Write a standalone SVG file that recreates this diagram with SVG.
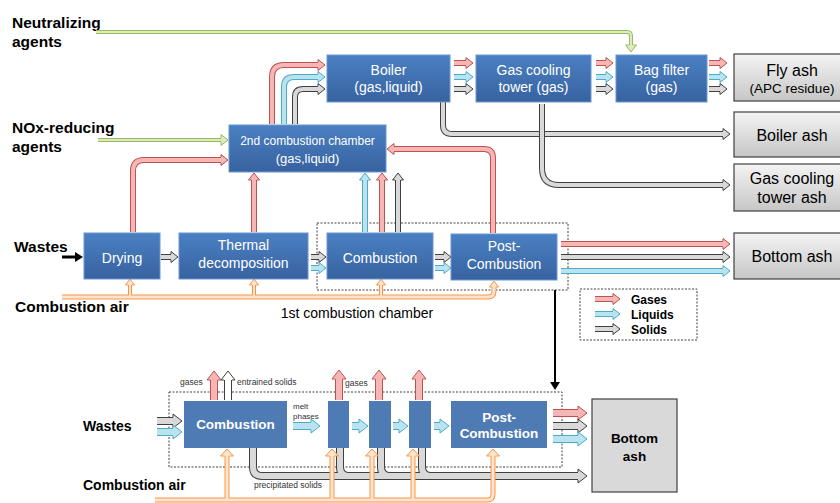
<svg xmlns="http://www.w3.org/2000/svg" width="840" height="503" viewBox="0 0 840 503">
<defs>
<linearGradient id="gBlue" x1="0" y1="0" x2="0" y2="1"><stop offset="0" stop-color="#4a80c2"/><stop offset="1" stop-color="#3862a0"/></linearGradient>
<linearGradient id="gGray" x1="0" y1="0" x2="0" y2="1"><stop offset="0" stop-color="#f4f4f4"/><stop offset="1" stop-color="#c6c6c6"/></linearGradient>
<marker id="aR" markerUnits="userSpaceOnUse" orient="auto" overflow="visible" markerWidth="1" markerHeight="1"><path d="M0,-3 L0,-5.5 L7,0 L0,5.5 L0,3" fill="#f5b7b6" stroke="#c0504d" stroke-width="1"/></marker>
<marker id="aB" markerUnits="userSpaceOnUse" orient="auto" overflow="visible" markerWidth="1" markerHeight="1"><path d="M0,-3 L0,-5.5 L7,0 L0,5.5 L0,3" fill="#b9e3f1" stroke="#4bacc6" stroke-width="1"/></marker>
<marker id="aK" markerUnits="userSpaceOnUse" orient="auto" overflow="visible" markerWidth="1" markerHeight="1"><path d="M0,-3 L0,-5.5 L7,0 L0,5.5 L0,3" fill="#d9d9d9" stroke="#404040" stroke-width="1"/></marker>
<marker id="aRL" markerUnits="userSpaceOnUse" orient="auto" overflow="visible" markerWidth="1" markerHeight="1"><path d="M0,-4 L0,-7 L9,0 L0,7 L0,4" fill="#f5b7b6" stroke="#c0504d" stroke-width="1"/></marker>
<marker id="aBL" markerUnits="userSpaceOnUse" orient="auto" overflow="visible" markerWidth="1" markerHeight="1"><path d="M0,-4 L0,-7 L9,0 L0,7 L0,4" fill="#b9e3f1" stroke="#4bacc6" stroke-width="1"/></marker>
<marker id="aKL" markerUnits="userSpaceOnUse" orient="auto" overflow="visible" markerWidth="1" markerHeight="1"><path d="M0,-4 L0,-7 L9,0 L0,7 L0,4" fill="#d9d9d9" stroke="#404040" stroke-width="1"/></marker>
<marker id="aWL" markerUnits="userSpaceOnUse" orient="auto" overflow="visible" markerWidth="1" markerHeight="1"><path d="M0,-4 L0,-7 L9,0 L0,7 L0,4" fill="#ffffff" stroke="#404040" stroke-width="1"/></marker>
<marker id="aG" markerUnits="userSpaceOnUse" orient="auto" overflow="visible" markerWidth="1" markerHeight="1"><path d="M0,-2 L0,-5.5 L7,0 L0,5.5 L0,2" fill="#dbe9c4" stroke="#9bbb59" stroke-width="1"/></marker>
<marker id="aO" markerUnits="userSpaceOnUse" orient="auto" overflow="visible" markerWidth="1" markerHeight="1"><path d="M0,-2 L0,-4.5 L6,0 L0,4.5 L0,2" fill="#fde4cf" stroke="#f79646" stroke-width="1"/></marker>
<marker id="aOL" markerUnits="userSpaceOnUse" orient="auto" overflow="visible" markerWidth="1" markerHeight="1"><path d="M0,-2.5 L0,-6.5 L7,0 L0,6.5 L0,2.5" fill="#fde4cf" stroke="#f79646" stroke-width="1"/></marker>
<marker id="aBlk" markerUnits="userSpaceOnUse" orient="auto" overflow="visible" markerWidth="1" markerHeight="1"><path d="M-1,-5 L7,0 L-1,5 Z" fill="#000"/></marker>
</defs>
<style>
text{font-family:"Liberation Sans",Arial,sans-serif}
.bx{fill:url(#gBlue);stroke:#6b98d0;stroke-width:1}
.bx2{fill:#4f7bb5}
.gb{fill:url(#gGray);stroke:#404040;stroke-width:1.2}
.nt{fill:#fff;font-size:14px;text-anchor:middle}
.nb{fill:#fff;font-size:13.5px;font-weight:bold;text-anchor:middle}
.gt{fill:#000;font-size:16px;text-anchor:middle}
.lab{fill:#000;font-size:15.5px;font-weight:bold}
.sm{fill:#333;font-size:8.5px}
.dash{fill:none;stroke:#404040;stroke-width:1;stroke-dasharray:2,1.5}
.r1{fill:none;stroke:#c0504d;stroke-width:6}
.r2{fill:none;stroke:#f5b7b6;stroke-width:4}
.b1{fill:none;stroke:#4bacc6;stroke-width:6}
.b2{fill:none;stroke:#b9e3f1;stroke-width:4}
.k1{fill:none;stroke:#404040;stroke-width:6}
.k2{fill:none;stroke:#d9d9d9;stroke-width:4}
.w2{fill:none;stroke:#ffffff;stroke-width:4}
.g1{fill:none;stroke:#9bbb59;stroke-width:4}
.g2{fill:none;stroke:#dbe9c4;stroke-width:2}
.o1{fill:none;stroke:#f79646;stroke-width:4}
.o2{fill:none;stroke:#fde4cf;stroke-width:2}
.L1{stroke-width:8}
.L2{stroke-width:6}
.O1{stroke-width:5}
.O2{stroke-width:3}
</style>

<!-- labels -->
<g id="labels">
<text class="lab" x="12" y="28">Neutralizing</text>
<text class="lab" x="12" y="47">agents</text>
<text class="lab" x="12" y="133">NOx-reducing</text>
<text class="lab" x="12" y="152">agents</text>
<text class="lab" x="14" y="252">Wastes</text>
<text class="lab" x="15" y="312">Combustion air</text>
<text x="357" y="318" font-size="14" text-anchor="middle" fill="#000">1st combustion chamber</text>
<text class="lab" x="83" y="431" style="font-size:14px">Wastes</text>
<text class="lab" x="83" y="490" style="font-size:14px">Combustion air</text>
<text class="sm" x="180" y="385">gases</text>
<text class="sm" x="237" y="385">entrained solids</text>
<text class="sm" x="345" y="386">gases</text>
<text class="sm" x="293" y="409" style="font-size:8px">melt</text>
<text class="sm" x="293" y="419" style="font-size:8px">phases</text>
<text class="sm" x="254" y="488">precipitated solids</text>
</g>

<!-- dashed frames -->
<rect class="dash" x="317" y="223" width="251" height="67"/>
<rect class="dash" x="169" y="392" width="393" height="75"/>

<!-- connectors -->
<g id="connectors">
<path class="g1" d="M96,32 H627 Q631,32 631,36 V45"/>
<path class="g2" d="M96,32 H627 Q631,32 631,36 V45" marker-end="url(#aG)"/>
<path class="g1" d="M98,140 H221"/>
<path class="g2" d="M98,140 H221" marker-end="url(#aG)"/>

<path class="r1" d="M272,124 V77 Q272,65 284,65 H318"/>
<path class="r2" d="M272,124 V77 Q272,65 284,65 H318" marker-end="url(#aR)"/>
<path class="b1" d="M284,124 V87 Q284,77 294,77 H318"/>
<path class="b2" d="M284,124 V87 Q284,77 294,77 H318" marker-end="url(#aB)"/>
<path class="k1" d="M295,124 V97 Q295,89 303,89 H318"/>
<path class="k2" d="M295,124 V97 Q295,89 303,89 H318" marker-end="url(#aK)"/>

<path class="r1" d="M454,63 H466"/><path class="r2" d="M454,63 H466" marker-end="url(#aR)"/>
<path class="b1" d="M454,77 H466"/><path class="b2" d="M454,77 H466" marker-end="url(#aB)"/>
<path class="k1" d="M454,89 H466"/><path class="k2" d="M454,89 H466" marker-end="url(#aK)"/>
<path class="r1" d="M596,63 H606"/><path class="r2" d="M596,63 H606" marker-end="url(#aR)"/>
<path class="b1" d="M596,77 H606"/><path class="b2" d="M596,77 H606" marker-end="url(#aB)"/>
<path class="k1" d="M596,89 H606"/><path class="k2" d="M596,89 H606" marker-end="url(#aK)"/>
<path class="r1" d="M709,63 H720"/><path class="r2" d="M709,63 H720" marker-end="url(#aR)"/>
<path class="b1" d="M709,77 H720"/><path class="b2" d="M709,77 H720" marker-end="url(#aB)"/>
<path class="k1" d="M709,89 H720"/><path class="k2" d="M709,89 H720" marker-end="url(#aK)"/>

<path class="k1" d="M443,102 V125 Q443,134 452,134 H723"/>
<path class="k2" d="M443,102 V125 Q443,134 452,134 H723" marker-end="url(#aK)"/>
<path class="k1" d="M542,104 V168 Q542,185 559,185 H723"/>
<path class="k2" d="M542,104 V168 Q542,185 559,185 H723" marker-end="url(#aK)"/>

<path class="r1" d="M133,232 V171 Q133,160 144,160 H221"/>
<path class="r2" d="M133,232 V171 Q133,160 144,160 H221" marker-end="url(#aR)"/>
<path class="r1" d="M254,232 V180"/><path class="r2" d="M254,232 V180" marker-end="url(#aR)"/>
<path class="b1" d="M365,232 V180"/><path class="b2" d="M365,232 V180" marker-end="url(#aB)"/>
<path class="r1" d="M382,232 V180"/><path class="r2" d="M382,232 V180" marker-end="url(#aR)"/>
<path class="k1" d="M398,232 V180"/><path class="k2" d="M398,232 V180" marker-end="url(#aK)"/>
<path class="r1" d="M493,233 V158 Q493,149 484,149 H394"/>
<path class="r2" d="M493,233 V158 Q493,149 484,149 H394" marker-end="url(#aR)"/>

<path d="M62,257 H76" stroke="#000" stroke-width="3" fill="none" marker-end="url(#aBlk)"/>
<path class="k1" d="M161,257 H171"/><path class="k2" d="M161,257 H171" marker-end="url(#aK)"/>
<path class="k1" d="M311,257 H319"/><path class="k2" d="M311,257 H319" marker-end="url(#aK)"/>
<path class="b1" d="M311,268 H319"/><path class="b2" d="M311,268 H319" marker-end="url(#aB)"/>
<path class="k1" d="M435,257 H444"/><path class="k2" d="M435,257 H444" marker-end="url(#aK)"/>
<path class="b1" d="M435,268 H444"/><path class="b2" d="M435,268 H444" marker-end="url(#aB)"/>

<path class="r1" d="M561,244 H723"/><path class="r2" d="M561,244 H723" marker-end="url(#aR)"/>
<path class="k1" d="M561,257 H723"/><path class="k2" d="M561,257 H723" marker-end="url(#aK)"/>
<path class="b1" d="M561,271 H723"/><path class="b2" d="M561,271 H723" marker-end="url(#aB)"/>

<path class="o1 O1" d="M62,297 H488 Q494,297 494,291 V287"/>
<path class="o1" d="M130,297 V285"/>
<path class="o1" d="M254,297 V285"/>
<path class="o1" d="M381,297 V285"/>
<path class="o2 O2" d="M62,297 H488 Q494,297 494,291 V287" marker-end="url(#aO)"/>
<path class="o2" d="M130,297 V285" marker-end="url(#aO)"/>
<path class="o2" d="M254,297 V285" marker-end="url(#aO)"/>
<path class="o2" d="M381,297 V285" marker-end="url(#aO)"/>

<path d="M555,290 V383" stroke="#000" stroke-width="2" fill="none" marker-end="url(#aBlk)"/>

<path class="r1" d="M595,299 H613"/><path class="r2" d="M595,299 H613" marker-end="url(#aR)"/>
<path class="b1" d="M595,314 H613"/><path class="b2" d="M595,314 H613" marker-end="url(#aB)"/>
<path class="k1" d="M595,329 H613"/><path class="k2" d="M595,329 H613" marker-end="url(#aK)"/>

<path class="k1 L1" d="M157,421 H173"/><path class="k2 L2" d="M157,421 H173" marker-end="url(#aKL)"/>
<path class="b1 L1" d="M157,432 H173"/><path class="b2 L2" d="M157,432 H173" marker-end="url(#aBL)"/>
<path class="r1 L1" d="M214,400 V380"/><path class="r2 L2" d="M214,400 V380" marker-end="url(#aRL)"/>
<path class="k1 L1" d="M228,400 V380"/><path class="w2 L2" d="M228,400 V380" marker-end="url(#aWL)"/>
<path class="b1 L1" d="M293,426 H311"/><path class="b2 L2" d="M293,426 H311" marker-end="url(#aBL)"/>
<path class="r1 L1" d="M339,400 V379"/><path class="r2 L2" d="M339,400 V379" marker-end="url(#aRL)"/>
<path class="r1 L1" d="M379,400 V379"/><path class="r2 L2" d="M379,400 V379" marker-end="url(#aRL)"/>
<path class="r1 L1" d="M419,400 V379"/><path class="r2 L2" d="M419,400 V379" marker-end="url(#aRL)"/>
<path class="b1 L1" d="M352,426 H359"/><path class="b2 L2" d="M352,426 H359" marker-end="url(#aBL)"/>
<path class="b1 L1" d="M393,426 H399"/><path class="b2 L2" d="M393,426 H399" marker-end="url(#aBL)"/>
<path class="b1 L1" d="M434,426 H440"/><path class="b2 L2" d="M434,426 H440" marker-end="url(#aBL)"/>
<path class="r1 L1" d="M553,413 H578"/><path class="r2 L2" d="M553,413 H578" marker-end="url(#aRL)"/>
<path class="k1 L1" d="M553,426 H578"/><path class="k2 L2" d="M553,426 H578" marker-end="url(#aKL)"/>
<path class="b1 L1" d="M553,439 H578"/><path class="b2 L2" d="M553,439 H578" marker-end="url(#aBL)"/>

<path class="k1 L1" d="M253,448 V467 Q253,476 262,476 H578"/>
<path class="k1 L1" d="M340,448 V467 Q340,476 349,476"/>
<path class="k1 L1" d="M381,448 V467 Q381,476 390,476"/>
<path class="k1 L1" d="M422,448 V467 Q422,476 431,476"/>
<path class="k2 L2" d="M253,448 V467 Q253,476 262,476 H578" marker-end="url(#aKL)"/>
<path class="k2 L2" d="M340,448 V467 Q340,476 349,476 H360"/>
<path class="k2 L2" d="M381,448 V467 Q381,476 390,476 H400"/>
<path class="k2 L2" d="M422,448 V467 Q422,476 431,476 H440"/>

<path class="o1 O1" d="M155,500 H487 Q493,500 493,494 V456"/>
<path class="o1 O1" d="M227,500 V456"/>
<path class="o1 O1" d="M332,500 V456"/>
<path class="o1 O1" d="M372,500 V456"/>
<path class="o1 O1" d="M413,500 V456"/>
<path class="o2 O2" d="M155,500 H487 Q493,500 493,494 V456" marker-end="url(#aOL)"/>
<path class="o2 O2" d="M227,500 V456" marker-end="url(#aOL)"/>
<path class="o2 O2" d="M332,500 V456" marker-end="url(#aOL)"/>
<path class="o2 O2" d="M372,500 V456" marker-end="url(#aOL)"/>
<path class="o2 O2" d="M413,500 V456" marker-end="url(#aOL)"/>
</g>

<g id="boiler"><rect class="bx" x="327" y="55" width="123" height="47"/><text class="nt" x="388.5" y="75">Boiler</text><text class="nt" x="388.5" y="92">(gas,liquid)</text></g>
<g id="gct"><rect class="bx" x="476" y="55" width="115" height="47"/><text class="nt" x="533.5" y="75">Gas cooling</text><text class="nt" x="533.5" y="92">tower (gas)</text></g>
<g id="bagfilter"><rect class="bx" x="616" y="55" width="91" height="47"/><text class="nt" x="661.5" y="75">Bag filter</text><text class="nt" x="661.5" y="92">(gas)</text></g>
<g id="flyash"><rect class="gb" x="734" y="54" width="120" height="47"/><text class="gt" x="792" y="76">Fly ash</text><text class="gt" x="792" y="93" style="font-size:13.5px">(APC residue)</text></g>
<g id="boilerash"><rect class="gb" x="734" y="112" width="120" height="45"/><text class="gt" x="792" y="141">Boiler ash</text></g>
<g id="gctash"><rect class="gb" x="734" y="164" width="120" height="47"/><text class="gt" x="792" y="184">Gas cooling</text><text class="gt" x="792" y="203">tower ash</text></g>
<g id="second"><rect class="bx" x="229" y="125" width="157" height="47"/><text class="nt" x="307.5" y="145" style="font-size:12px">2nd combustion chamber</text><text class="nt" x="307.5" y="163" style="font-size:13px">(gas,liquid)</text></g>
<g id="drying"><rect class="bx" x="84" y="233" width="76" height="46"/><text class="nt" x="122" y="263">Drying</text></g>
<g id="thermal"><rect class="bx" x="179" y="233" width="129" height="46"/><text class="nt" x="243.5" y="250">Thermal</text><text class="nt" x="243.5" y="268">decomposition</text></g>
<g id="combustion"><rect class="bx" x="327" y="233" width="106" height="46"/><text class="nt" x="380" y="263">Combustion</text></g>
<g id="postcombustion"><rect class="bx" x="451" y="234" width="106" height="46"/><text class="nt" x="504" y="251">Post-</text><text class="nt" x="504" y="269">Combustion</text></g>
<g id="bottomash"><rect class="gb" x="734" y="233" width="120" height="46"/><text class="gt" x="792" y="262">Bottom ash</text></g>

<g id="legend">
<rect class="dash" x="580" y="289" width="117" height="51"/>
<text x="631" y="304" font-size="12" font-weight="bold" fill="#000">Gases</text>
<text x="631" y="319" font-size="12" font-weight="bold" fill="#000">Liquids</text>
<text x="631" y="334" font-size="12" font-weight="bold" fill="#000">Solids</text>
</g>

<g id="combustion2"><rect class="bx2" x="184" y="401" width="103" height="47"/><text class="nb" x="235.5" y="429">Combustion</text></g>
<g id="stage1"><rect class="bx2" x="328" y="401" width="21" height="47"/></g>
<g id="stage2"><rect class="bx2" x="369" y="401" width="22" height="47"/></g>
<g id="stage3"><rect class="bx2" x="409" y="401" width="22" height="47"/></g>
<g id="postcombustion2"><rect class="bx2" x="451" y="401" width="96" height="47"/><text class="nb" x="499" y="422">Post-</text><text class="nb" x="499" y="438">Combustion</text></g>
<g id="bottomash2"><rect x="592" y="399" width="85" height="93" fill="#d9d9d9" stroke="#404040" stroke-width="1.2"/><text x="634.5" y="443" font-size="13.5" font-weight="bold" text-anchor="middle" fill="#000">Bottom</text><text x="634.5" y="461" font-size="13.5" font-weight="bold" text-anchor="middle" fill="#000">ash</text></g>
</svg>
